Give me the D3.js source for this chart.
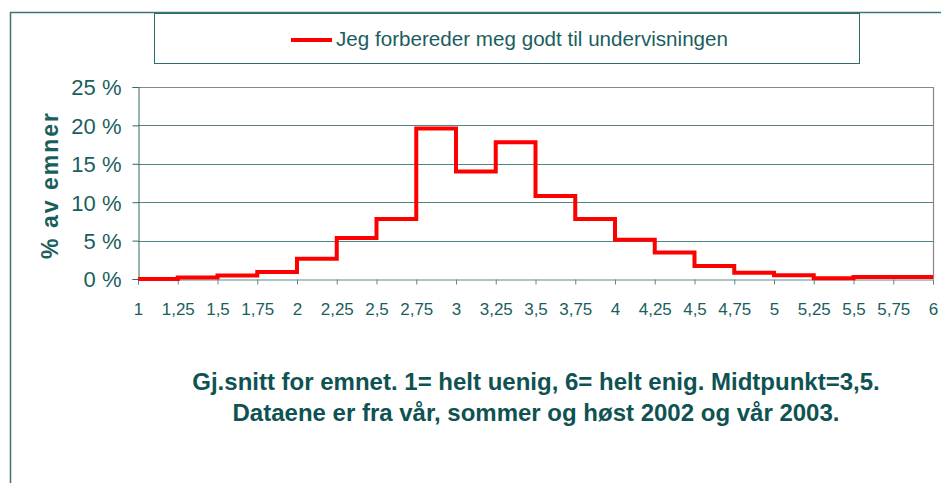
<!DOCTYPE html>
<html>
<head>
<meta charset="utf-8">
<script src="https://cdn.jsdelivr.net/npm/d3@7"></script>
<style>
  body { margin: 0; background: #fff; }
  svg { display: block; font-family: "Liberation Sans", Arial, sans-serif; }
</style>
</head>
<body>
<svg id="chart" width="941" height="483"></svg>
<script>
// bin start (gj.snitt) and share of courses in %
var binStarts = [1, 1.25, 1.5, 1.75, 2, 2.25, 2.5, 2.75, 3, 3.25, 3.5, 3.75, 4, 4.25, 4.5, 4.75, 5, 5.25, 5.5, 5.75];
var shares    = [0, 0.2, 0.45, 0.9, 2.65, 5.35, 7.8, 19.6, 14.0, 17.8, 10.8, 7.8, 5.1, 3.45, 1.7, 0.8, 0.5, 0.1, 0.25, 0.25];
var xTicks = [1, 1.25, 1.5, 1.75, 2, 2.25, 2.5, 2.75, 3, 3.25, 3.5, 3.75, 4, 4.25, 4.5, 4.75, 5, 5.25, 5.5, 5.75, 6];
var yTicks = [0, 5, 10, 15, 20, 25];
var seriesName = "Jeg forbereder meg godt til undervisningen";
var noteLines = ["Gj.snitt for emnet. 1= helt uenig, 6= helt enig. Midtpunkt=3,5.",
                 "Dataene er fra vår, sommer og høst 2002 og vår 2003."];

var teal = "#1b5e5e";
var svg = d3.select("#chart");

// outer frame (only top and left visible)
svg.append("path")
    .attr("d", "M10.5,483 V12.5 H941")
    .attr("fill", "none").attr("stroke", "#3d7575").attr("stroke-width", 1.5);

// legend box
svg.append("rect")
    .attr("x", 154.5).attr("y", 13.5).attr("width", 705).attr("height", 50)
    .attr("fill", "#fff").attr("stroke", "#2e6b6b").attr("stroke-width", 1);
svg.append("line")
    .attr("x1", 291).attr("x2", 332).attr("y1", 40).attr("y2", 40)
    .attr("stroke", "#ff0000").attr("stroke-width", 4);
svg.append("text")
    .attr("x", 336).attr("y", 46)
    .attr("fill", teal).attr("font-size", 21)
    .attr("textLength", 392).attr("lengthAdjust", "spacingAndGlyphs")
    .text(seriesName);

var pLeft = 138, pRight = 933, pTop = 87, pBottom = 279;
var x = d3.scaleLinear().domain([1, 6]).range([pLeft, pRight]);
var y = d3.scaleLinear().domain([0, 25]).range([pBottom, pTop]);

// gridlines
svg.append("g").selectAll("line").data(yTicks.filter(function(d) { return d > 0 && d < 25; }))
    .enter().append("line")
    .attr("x1", pLeft).attr("x2", pRight)
    .attr("y1", function(d) { return Math.round(y(d)) + 0.5; })
    .attr("y2", function(d) { return Math.round(y(d)) + 0.5; })
    .attr("stroke", "#4f8585").attr("stroke-width", 1);

// plot border top + right (gray)
svg.append("path")
    .attr("d", "M" + pLeft + "," + (pTop + 0.5) + " H" + (pRight + 0.5) + " V" + pBottom)
    .attr("fill", "none").attr("stroke", "#888").attr("stroke-width", 1.2);

// y axis
var yAxis = svg.append("g")
    .attr("transform", "translate(" + (pLeft + 0.5) + ",0)")
    .call(d3.axisLeft(y).tickValues(yTicks).tickSize(6).tickPadding(11)
          .tickFormat(function(d) { return d + " %"; }));
yAxis.select(".domain").attr("stroke", "#2e6b6b");
yAxis.selectAll(".tick line").attr("stroke", "#2e6b6b");
yAxis.selectAll("text").attr("fill", teal).attr("font-size", 22)
    .attr("font-family", "Liberation Sans, Arial, sans-serif").attr("dy", "0.36em");

// x axis
var xAxis = svg.append("g")
    .attr("transform", "translate(0," + (pBottom + 0.5) + ")")
    .call(d3.axisBottom(x).tickValues(xTicks).tickSize(5).tickPadding(18)
          .tickFormat(function(d) { return String(d).replace(".", ","); }));
xAxis.select(".domain").attr("stroke", "#5a8a8a");
xAxis.selectAll(".tick line").attr("stroke", "#5a8a8a");
xAxis.selectAll("text").attr("fill", teal).attr("font-size", 17)
    .attr("font-family", "Liberation Sans, Arial, sans-serif");

// step line
var pts = binStarts.map(function(b, i) { return [b, shares[i]]; });
pts.push([6, shares[shares.length - 1]]);
var line = d3.line()
    .x(function(d) { return x(d[0]); })
    .y(function(d) { return y(d[1]); })
    .curve(d3.curveStepAfter);
svg.append("path")
    .datum(pts)
    .attr("d", line)
    .attr("fill", "none").attr("stroke", "#ff0000").attr("stroke-width", 4)
    .attr("stroke-linejoin", "miter");

// y title
svg.append("text")
    .attr("transform", "translate(58,185) rotate(-90)")
    .attr("text-anchor", "middle")
    .attr("fill", teal).attr("font-size", 23).attr("font-weight", "bold")
    .attr("letter-spacing", 2)
    .text("% av emner");

// note below
svg.append("g").selectAll("text").data(noteLines).enter().append("text")
    .attr("x", 536)
    .attr("y", function(d, i) { return 390 + i * 31; })
    .attr("text-anchor", "middle")
    .attr("fill", "#0f5252").attr("font-size", 24).attr("font-weight", "bold")
    .text(function(d) { return d; });
</script>
</body>
</html>
